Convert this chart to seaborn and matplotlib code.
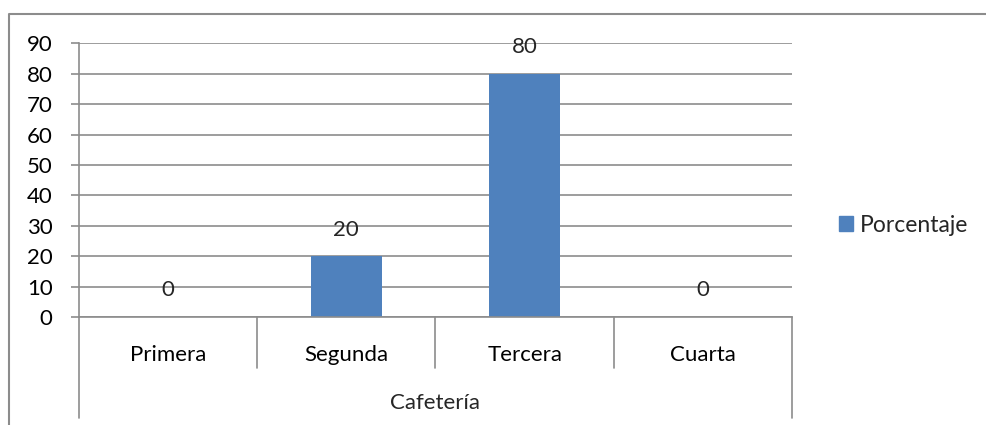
import numpy as np
import pandas as pd
import matplotlib
matplotlib.use("Agg")
import matplotlib.pyplot as plt
from matplotlib.lines import Line2D
import seaborn as sns

# datos
categorias = ["Primera", "Segunda", "Tercera", "Cuarta"]
porcentaje = [0, 20, 80, 0]
serie = "Porcentaje"
grupo = "Cafetería"
yticks = list(range(0, 100, 10))

sns.set_theme(style="white")
plt.rcParams['font.family'] = ['Lato', 'DejaVu Sans']
fs = 16

gris = "#8c8c8c"
azul = "#4F81BD"

df = pd.DataFrame({"categoria": categorias, "valor": porcentaje, "serie": serie})

fig = plt.figure(figsize=(9.86, 4.25), dpi=100)
ax = fig.add_axes([79/986, 1 - 317/425, 713/986, (317 - 43.3)/425])

sns.barplot(df, x="categoria", y="valor", hue="serie", palette=[azul],
            width=0.4, dodge=False, saturation=1, linewidth=0,
            ax=ax, legend=True)

ax.set_ylim(0, 90)
ax.set_xlim(-0.5, len(categorias) - 0.5)
ax.set_yticks(yticks)
ax.yaxis.grid(True, color=gris, lw=1.2)
ax.set_axisbelow(True)
ax.set_xlabel("")
ax.set_ylabel("")

for s in ["top", "right"]:
    ax.spines[s].set_visible(False)
for s in ["left", "bottom"]:
    ax.spines[s].set_color(gris)
    ax.spines[s].set_linewidth(1.2)

ax.tick_params(axis="y", left=True, length=6, width=1.2, color=gris,
               pad=13, labelsize=fs, labelcolor="black")
ax.tick_params(axis="x", bottom=False, pad=14, labelsize=fs, labelcolor="black")

# etiquetas de datos
for c in ax.containers:
    ax.bar_label(c, labels=[str(v) for v in porcentaje], padding=12, fontsize=fs)

# divisiones de categorías y eje de grupo
trans = ax.get_xaxis_transform()
n = len(categorias)
for i in range(n + 1):
    x = i - 0.5
    y_end = -0.369 if i in (0, n) else -0.186
    ax.plot([x, x], [0, y_end], transform=trans, color=gris, lw=1.2, clip_on=False)
ax.text((n - 1) / 2, -0.315, grupo, transform=trans, ha="center", va="center",
        fontsize=fs)

# leyenda
ax.get_legend().remove()
h = [plt.Rectangle((0, 0), 1, 1, color=azul)]
fig.legend(h, [serie], loc="center left", bbox_to_anchor=(818/986, 1 - 225/425),
           frameon=False, handlelength=0.62, handleheight=0.62,
           handletextpad=0.3, fontsize=fs + 0.5)

# marco exterior
fig.add_artist(Line2D([9/986, 9/986, 1.0], [0.0, 1 - 13.5/425, 1 - 13.5/425],
                      transform=fig.transFigure, color=gris, lw=1.5))

fig.savefig("out.png", dpi=100)
